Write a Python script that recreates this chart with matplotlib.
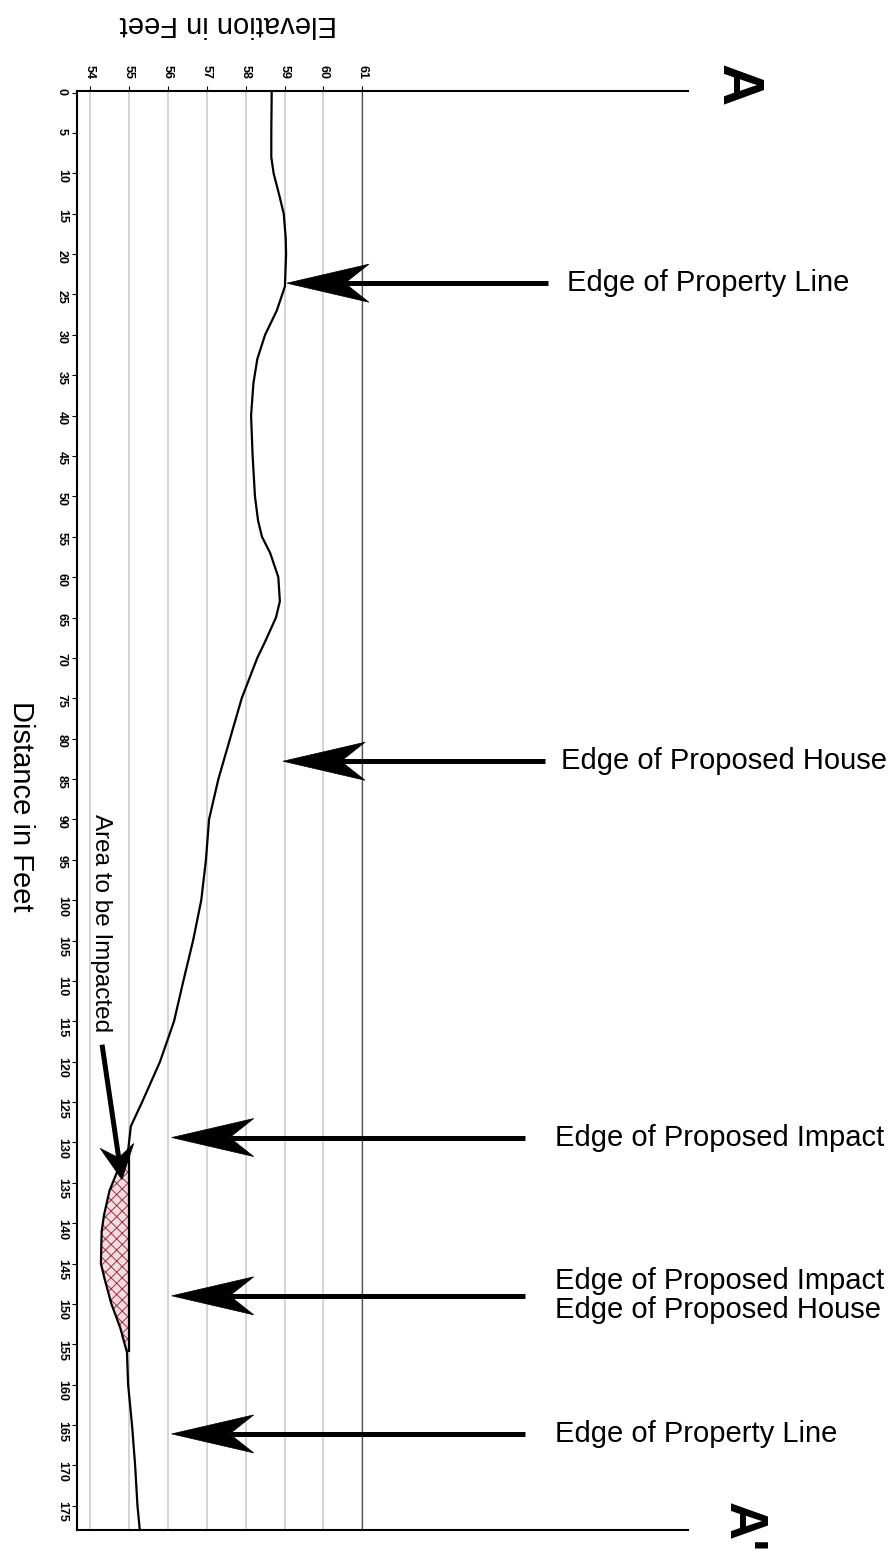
import numpy as np
import matplotlib
matplotlib.use("Agg")
import matplotlib.pyplot as plt
from matplotlib.patches import Polygon
from matplotlib.lines import Line2D
from matplotlib.transforms import IdentityTransform

plt.rcParams["font.family"] = ["Liberation Sans", "DejaVu Sans"]
plt.rcParams["hatch.linewidth"] = 0.7

# ground profile (distance ft, elevation ft)
distance = [0, 5, 8, 10, 13, 15, 18, 20, 24, 27, 30, 33, 36, 40, 45, 50, 53, 55,
            57, 60, 63, 65, 68, 70, 75, 80, 85, 90, 95, 100, 105, 110, 115, 120,
            125, 128, 131, 133, 136, 139, 141, 145, 147, 150, 153, 156, 160, 165,
            170, 175, 178]
elevation = [58.67, 58.66, 58.66, 58.72, 58.88, 58.98, 59.03, 59.04, 59.01, 58.80,
             58.50, 58.30, 58.20, 58.14, 58.18, 58.24, 58.32, 58.42, 58.63, 58.84,
             58.88, 58.78, 58.50, 58.30, 57.90, 57.60, 57.30, 57.06, 56.98, 56.86,
             56.65, 56.40, 56.16, 55.80, 55.34, 55.05, 54.98, 54.75, 54.50, 54.36,
             54.30, 54.28, 54.38, 54.55, 54.78, 54.95, 54.98, 55.08, 55.16, 55.22,
             55.28]

# impacted area (filled up to proposed grade)
grade_elev = 55.0
impact_start = 131
impact_end = 156

elev_ticks = [54, 55, 56, 57, 58, 59, 60, 61]
dist_ticks = list(range(0, 180, 5))

# callout arrows
arrow_labels = ["Edge of Property Line", "Edge of Proposed House",
                "Edge of Proposed Impact",
                "Edge of Proposed Impact\nEdge of Proposed House",
                "Edge of Property Line"]
arrow_dist = [23.6, 82.8, 129.4, 149.0, 166.1]
arrow_tip = [59.06, 58.96, 56.1, 56.1, 56.1]
arrow_tail = [65.77, 65.7, 65.18, 65.18, 65.18]
label_elev = [66.25, 66.1, 65.95, 65.95, 65.95]

area_text = (54.28, 102.9)
area_tail = (54.31, 117.9)
area_tip = (54.82, 134.6)

fig = plt.figure(figsize=(8.91, 15.62), dpi=100)
ax = fig.add_axes([77 / 891, 32 / 1562, 611 / 891, 1439 / 1562])

dist = np.array(distance)
elev = np.array(elevation)

ax.set_xlim(53.666, 69.37)
ax.set_ylim(178, -0.2)

ax.grid(axis="x", color="#d4d4d4", linewidth=1.4)
ax.axvline(61, color="#555555", linewidth=0.9)

mask = (dist >= impact_start) & (dist <= impact_end)
ax.fill_betweenx(dist, elev, grade_elev, where=mask, facecolor="#f5dbe0",
                 edgecolor="#9a3546", hatch="xxx", linewidth=0)
ax.vlines(grade_elev, impact_start, impact_end, color="black", linewidth=1.6)
ax.plot(elev, dist, color="black", linewidth=1.6, solid_joinstyle="round")

ax.xaxis.tick_top()
ax.set_xticks(elev_ticks)
ax.set_yticks(dist_ticks)
ax.tick_params(axis="x", labelrotation=-90, labelsize=9, length=3.5, pad=5)
ax.tick_params(axis="y", labelrotation=-90, labelsize=9, length=3.5, pad=3)
for lbl in ax.get_xticklabels() + ax.get_yticklabels():
    lbl.set_fontweight("bold")
ax.spines["right"].set_visible(False)
for s in ["left", "top", "bottom"]:
    ax.spines[s].set_linewidth(1.5)

fig.text(228 / 891, 1 - 24 / 1562, "Elevation in Feet", rotation=180,
         ha="center", va="center", fontsize=21)
fig.text(21 / 891, 1 - 806 / 1562, "Distance in Feet", rotation=-90,
         ha="center", va="center", fontsize=21)
fig.text(737 / 891, 1 - 85 / 1562, "A", rotation=-90, ha="center", va="center",
         fontsize=42, fontweight="bold")
fig.text(743 / 891, 1 - 1502 / 1562, "A'", rotation=-90, ha="center", va="top",
         fontsize=38, fontweight="bold")


def stealth_arrow(tail, tip, head_len, head_w, notch, lw):
    p0 = ax.transData.transform(tail)
    p1 = ax.transData.transform(tip)
    d = p1 - p0
    u = d / np.hypot(*d)
    n = np.array([-u[1], u[0]])
    back = p1 - u * head_len
    neck = p1 - u * notch
    fig.add_artist(Line2D([p0[0], neck[0]], [p0[1], neck[1]], color="black",
                          linewidth=lw, solid_capstyle="butt",
                          transform=IdentityTransform()))
    fig.add_artist(Polygon([p1, back + n * head_w, neck, back - n * head_w],
                           closed=True, facecolor="black", edgecolor="black",
                           linewidth=0.5, transform=IdentityTransform()))


for lab, d, tip, tail, le in zip(arrow_labels, arrow_dist, arrow_tip,
                                 arrow_tail, label_elev):
    stealth_arrow((tail, d), (tip, d), 82, 19, 58, 3.6)
    ax.text(le, d, lab, ha="left", va="center", fontsize=21, clip_on=False,
            linespacing=1.05)

ax.text(area_text[0], area_text[1], "Area to be Impacted", rotation=-90,
        ha="center", va="center", fontsize=17.5)
stealth_arrow(area_tail, area_tip, 34, 17, 22, 3.6)

fig.savefig("out.png", dpi=100)
